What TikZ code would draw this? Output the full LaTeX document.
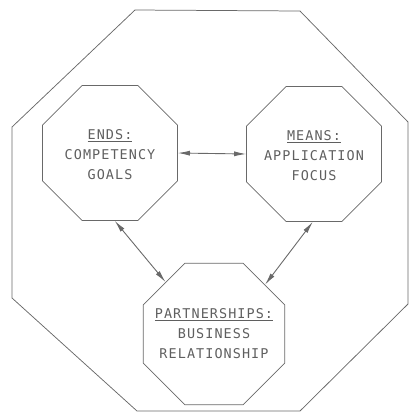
\documentclass[tikz,border=0pt]{standalone}
\usepackage{fontspec}
\setmonofont[LetterSpace=8]{DejaVu Sans Mono}
\usetikzlibrary{arrows.meta,shapes.geometric}
\definecolor{plotgray}{RGB}{105,105,105}
\definecolor{inkgray}{RGB}{95,95,95}
\tikzset{
  octa/.style={draw=plotgray, line width=0.75pt, regular polygon, regular polygon sides=8,
               inner sep=0pt, minimum size=#1},
  frm/.style={draw=plotgray, line width=0.75pt},
  txt/.style={font=\ttfamily\fontsize{13.5}{20}\selectfont, text=inkgray, align=center,
              inner sep=0pt},
  link/.style={{Latex[length=12bp,width=5bp]}-{Latex[length=12bp,width=5bp]},
               plotgray, line width=0.9pt},
}
\begin{document}
\begin{tikzpicture}[x=1bp, y=-1bp]
    \useasboundingbox (0,0) rectangle (412,412);
    % outer frame
    \draw[frm] (135,10) -- (300,11) -- (408,122) -- (408,304) -- (300,411)
               -- (137,411) -- (12,298) -- (12,127) -- cycle;
    % the three octagons
    \node[octa=146bp] (ends) at (110,153) {};
    \node[octa=146bp] (means) at (314,154) {};
    \node[octa=153bp] (part) at (214,334) {};
    \node[txt] (ends-t) at ([yshift=-2bp]ends) {\underline{ENDS:}\\COMPETENCY\\GOALS};
    \node[txt] (means-t) at ([yshift=-2bp]means) {\underline{MEANS:}\\APPLICATION\\FOCUS};
    \node[txt] (part-t) at (part) {\underline{PARTNERSHIPS:}\\BUSINESS\\RELATIONSHIP};
    % links
    \draw[link] (ends.0) -- (means.180);
    \draw[link] (ends.-86) -- (part.133);
    \draw[link] (means.-91) -- (part.44);
  \end{tikzpicture}
\end{document}
